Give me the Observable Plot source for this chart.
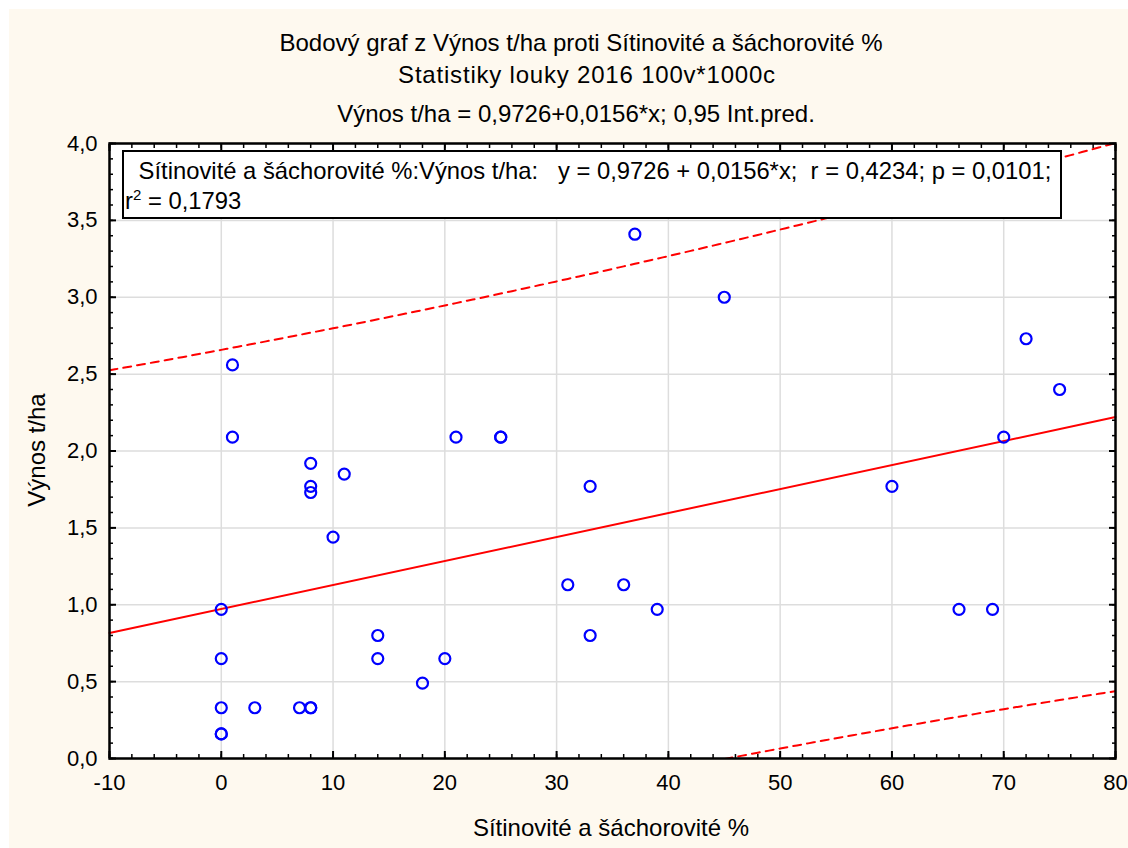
<!DOCTYPE html>
<html>
<head>
<meta charset="utf-8">
<script src="https://cdn.jsdelivr.net/npm/d3@7"></script>
<script src="https://cdn.jsdelivr.net/npm/@observablehq/plot@0.6"></script>
<style>
  html, body { margin: 0; padding: 0; background: #ffffff; }
  #wrap { position: relative; margin-left: 9px; margin-top: 9px; width: 1119px; height: 839px; background: #fef9ef; overflow: hidden; font-family: "Liberation Sans", Arial, sans-serif; color: #000; }
  #titles { position: relative; height: 116px; }
  .t { position: absolute; left: 572px; transform: translate(-50%, -50%); white-space: nowrap; font-size: 24px; }
  #legend { position: absolute; left: 113px; top: 141px; width: 936px; height: 65px; border: 2.5px solid #000; background: #fff; font-size: 23.8px; line-height: 31px; padding: 0; box-sizing: content-box; }
  #legend div { white-space: pre; }
  #chart svg { display: block; }
  .axlabel { position: absolute; white-space: nowrap; font-size: 24px; transform: translate(-50%, -50%); }
</style>
</head>
<body>
<div id="wrap">
  <div id="titles">
    <div class="t" style="top:34px">Bodový graf z Výnos t/ha proti Sítinovité a šáchorovité %</div>
    <div class="t" style="top:66px; left:578px; letter-spacing:0.8px">Statistiky louky 2016 100v*1000c</div>
    <div class="t" style="top:105px; left:567px">Výnos t/ha = 0,9726+0,0156*x; 0,95 Int.pred.</div>
  </div>
  <div id="chart"></div>
  <div id="legend">
    <div style="padding-left:8px; margin-top:3px"> Sítinovité a šáchorovité %:Výnos t/ha:   y = 0,9726 + 0,0156*x;  r = 0,4234; p = 0,0101;</div>
    <div style="padding-left:1px; margin-top:-1px">r<sup style="font-size:15px; vertical-align: 9px; line-height:0">2</sup> = 0,1793</div>
  </div>
  <div class="axlabel" style="left:602px; top:819px">Sítinovité a šáchorovité %</div>
  <div class="axlabel" style="left:28px; top:441px; transform: translate(-50%, -50%) rotate(-90deg)">Výnos t/ha</div>
</div>
<script>
// Data
const sitinoviteX = [0, 0, 0, 0, 0, 1, 1, 3, 7, 8, 8, 8, 8, 8, 11, 10, 14, 14, 18, 20, 21, 25, 25, 37, 45, 33, 31, 36, 39, 33, 72, 75, 70, 66, 69, 60];
const vynosY      = [0.97, 0.65, 0.33, 0.16, 0.16, 2.56, 2.09, 0.33, 0.33, 0.33, 0.33, 1.92, 1.77, 1.73, 1.85, 1.44, 0.8, 0.65, 0.49, 0.65, 2.09, 2.09, 2.09, 3.41, 3.0, 1.77, 1.13, 1.13, 0.97, 0.8, 2.73, 2.40, 2.09, 0.97, 0.97, 1.77];
const intercept = 0.9726;
const slope = 0.0156;
const tCrit = 2.032; // t(0.975, df = 34)
const xTicks = [-10, 0, 10, 20, 30, 40, 50, 60, 70, 80];
const yTicks = [0, 0.5, 1, 1.5, 2, 2.5, 3, 3.5, 4];
const xMinor = d3.range(-10, 80.001, 2);
const yMinor = d3.range(0, 4.001, 0.1);

const points = sitinoviteX.map((x, i) => ({x, y: vynosY[i]}));

// prediction interval derived from the data
const n = points.length;
const xbar = d3.mean(sitinoviteX);
const sxx = d3.sum(sitinoviteX, x => (x - xbar) ** 2);
const sse = d3.sum(points, p => (p.y - (intercept + slope * p.x)) ** 2);
const s = Math.sqrt(sse / (n - 2));
const gridX = d3.range(-10, 80.001, 0.5);
const fit = [-10, 80].map(x => ({x, y: intercept + slope * x}));
const upper = gridX.map(x => ({x, y: intercept + slope * x + tCrit * s * Math.sqrt(1 + 1 / n + (x - xbar) ** 2 / sxx)}));
const lower = gridX.map(x => ({x, y: intercept + slope * x - tCrit * s * Math.sqrt(1 + 1 / n + (x - xbar) ** 2 / sxx)}));

const fmtY = d => d.toFixed(1).replace(".", ",");

const chart = Plot.plot({
  width: 1119,
  height: 723,
  marginLeft: 100,
  marginRight: 13,
  marginTop: 18,
  marginBottom: 90,
  style: {background: "transparent", fontFamily: "'Liberation Sans', Arial, sans-serif", fontSize: "22px", color: "#000"},
  x: {domain: [-10, 80], label: null},
  y: {domain: [0, 4], label: null},
  marks: [
    Plot.frame({fill: "#ffffff"}),
    Plot.gridX(xTicks, {stroke: "#dddddd", strokeOpacity: 1, strokeWidth: 1.5}),
    Plot.gridY(yTicks, {stroke: "#dddddd", strokeOpacity: 1, strokeWidth: 1.5}),
    Plot.line(upper, {x: "x", y: "y", stroke: "#ff0000", strokeWidth: 2, strokeDasharray: "8,6", clip: true}),
    Plot.line(lower, {x: "x", y: "y", stroke: "#ff0000", strokeWidth: 2, strokeDasharray: "8,6", clip: true}),
    Plot.line(fit, {x: "x", y: "y", stroke: "#ff0000", strokeWidth: 2}),
    Plot.dot(points, {x: "x", y: "y", r: 5.5, stroke: "#0000ff", strokeWidth: 2.2, fill: "none"}),
    // inward ticks on all four sides
    Plot.axisX(xMinor, {anchor: "bottom", tickSize: -4, tickFormat: () => "", strokeWidth: 1.5}),
    Plot.axisX(xTicks, {anchor: "bottom", tickSize: -7, tickFormat: () => "", strokeWidth: 2}),
    Plot.axisX(xMinor, {anchor: "top", tickSize: -4, tickFormat: () => "", strokeWidth: 1.5}),
    Plot.axisX(xTicks, {anchor: "top", tickSize: -7, tickFormat: () => "", strokeWidth: 2}),
    Plot.axisY(yMinor, {anchor: "left", tickSize: -4, tickFormat: () => "", strokeWidth: 1.5}),
    Plot.axisY(yTicks, {anchor: "left", tickSize: -7, tickFormat: () => "", strokeWidth: 2}),
    Plot.axisY(yMinor, {anchor: "right", tickSize: -4, tickFormat: () => "", strokeWidth: 1.5}),
    Plot.axisY(yTicks, {anchor: "right", tickSize: -7, tickFormat: () => "", strokeWidth: 2}),
    // tick labels
    Plot.axisX(xTicks, {anchor: "bottom", tickSize: 0, tickPadding: 16, tickFormat: d => String(d), fontSize: 22}),
    Plot.axisY(yTicks, {anchor: "left", tickSize: 0, tickPadding: 12, tickFormat: fmtY, fontSize: 22}),
    Plot.frame({stroke: "#000000", strokeWidth: 2.5})
  ]
});
document.getElementById("chart").appendChild(chart);
</script>
</body>
</html>
